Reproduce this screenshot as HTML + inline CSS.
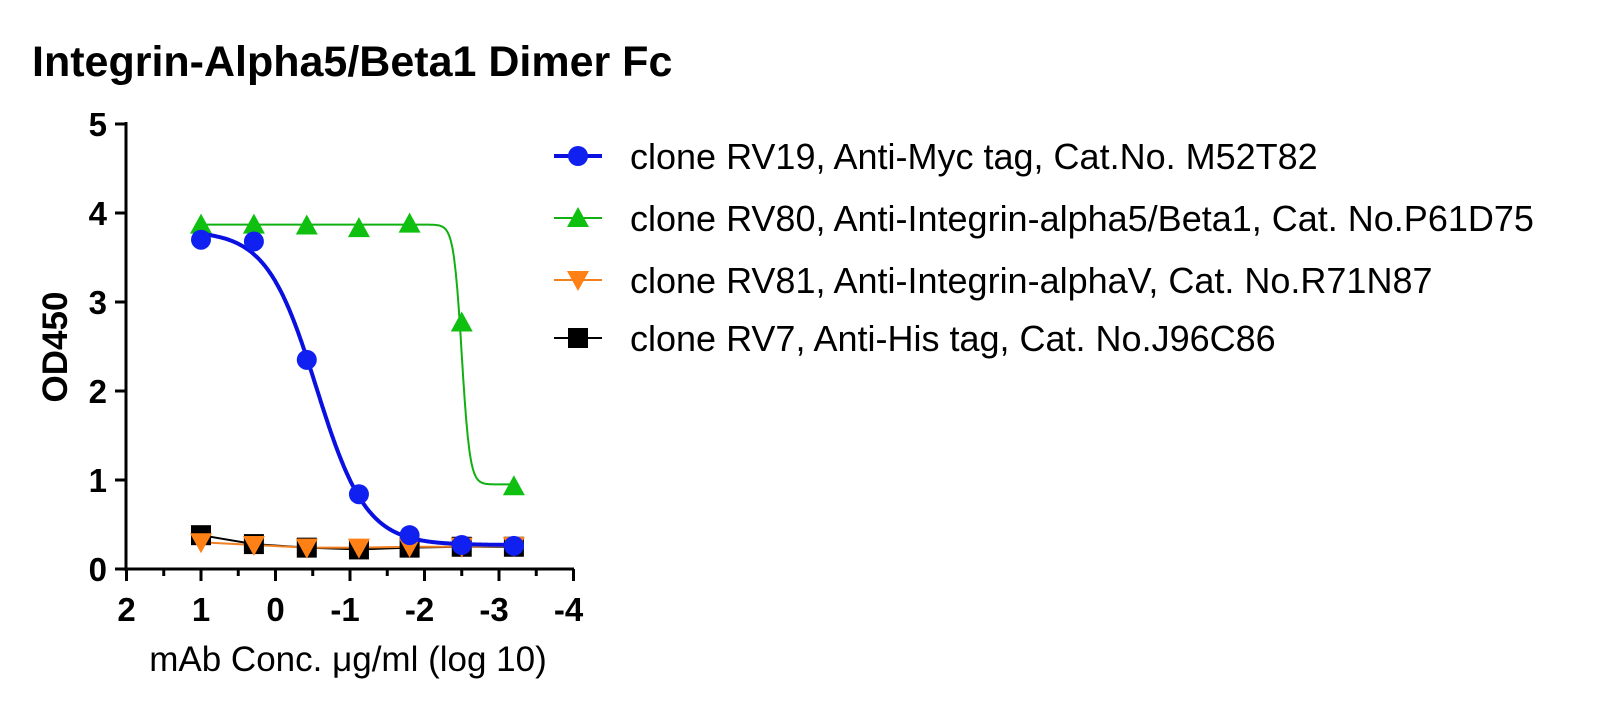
<!DOCTYPE html>
<html><head><meta charset="utf-8"><style>
html,body{margin:0;padding:0;background:#fff;}
svg{display:block;font-family:"Liberation Sans",Arial,sans-serif;}
</style></head><body>
<svg id="s" width="1600" height="726" viewBox="0 0 1600 726">
<text x="32" y="76" font-size="43" font-weight="bold">Integrin-Alpha5/Beta1 Dimer Fc</text>
<g stroke="#000" stroke-width="3" fill="none">
<line x1="126" y1="122" x2="126" y2="571"/>
<line x1="124" y1="569" x2="574" y2="569"/>
</g>
<g id="ticks" stroke="#000" stroke-width="3"></g>
<g id="tl" font-size="33" font-weight="bold"></g>
<text transform="translate(67,347) rotate(-90)" font-size="35" font-weight="bold" text-anchor="middle">OD450</text>
<text x="348" y="671" font-size="35" text-anchor="middle">mAb Conc. μg/ml (log 10)</text>
<g id="plot"></g>
<g id="leg" font-size="36"></g>
</svg>
<script>
const NS="http://www.w3.org/2000/svg";
function el(p,t,a,txt){const e=document.createElementNS(NS,t);for(const k in a)e.setAttribute(k,a[k]);if(txt!=null)e.textContent=txt;p.appendChild(e);return e;}
const X=v=>201+(1-v)*74.5, Y=v=>569-v*89;
const tk=document.getElementById('ticks'),tl=document.getElementById('tl');
for(let i=0;i<=5;i++){el(tk,'line',{x1:115,y1:Y(i),x2:126,y2:Y(i)});el(tl,'text',{x:107,y:Y(i)+12,'text-anchor':'end'},i);}
for(let v=2;v>=-4;v--){el(tk,'line',{x1:X(v),y1:569,x2:X(v),y2:581});el(tl,'text',{x:X(v)-(v<0?5:0),y:621,'text-anchor':'middle'},v<0?'-'+(-v):v);}
for(let v=1.5;v>=-3.5;v--){el(tk,'line',{x1:X(v),y1:569,x2:X(v),y2:576});}
const xs=[1,0.29,-0.42,-1.12,-1.8,-2.5,-3.2];
const P=document.getElementById('plot');
function curve(b,t,c,h){let d='';for(let x=1;x>=-3.2;x-=0.01){const y=b+(t-b)/(1+Math.pow(10,h*(c-x)));d+=(d?'L':'M')+X(x).toFixed(1)+','+Y(y).toFixed(1);}return d;}
function mark(g,type,x,y,col){
 if(type=='c')el(g,'circle',{cx:x,cy:y,r:10,fill:col});
 else if(type=='t')el(g,'polygon',{points:`${x},${y-11} ${x-11},${y+9} ${x+11},${y+9}`,fill:col});
 else if(type=='v')el(g,'polygon',{points:`${x},${y+11} ${x-11},${y-9} ${x+11},${y-9}`,fill:col});
 else el(g,'rect',{x:x-10,y:y-10,width:20,height:20,fill:col});
}
const black=[0.38,0.28,0.24,0.22,0.24,0.25,0.25], orange=[0.3,0.27,0.24,0.24,0.25,0.25,0.26];
el(P,'polyline',{points:xs.map((x,i)=>X(x)+','+Y(black[i])).join(' '),stroke:'#000','stroke-width':2,fill:'none'});
el(P,'polyline',{points:xs.map((x,i)=>X(x)+','+Y(orange[i])).join(' '),stroke:'#f08020','stroke-width':2,fill:'none'});
black.forEach((v,i)=>mark(P,'s',X(xs[i]),Y(v),'#000'));
orange.forEach((v,i)=>mark(P,'v',X(xs[i]),Y(v),'#ff8015'));
el(P,'path',{d:curve(0.95,3.87,-2.5,8),stroke:'#10b010','stroke-width':2,fill:'none'});
[3.87,3.87,3.86,3.83,3.88,2.77,0.93].forEach((v,i)=>mark(P,'t',X(xs[i]),Y(v),'#10c010'));
el(P,'path',{d:curve(0.27,3.8,-0.55,1.3),stroke:'#0a10e0','stroke-width':4,fill:'none'});
[3.7,3.68,2.35,0.84,0.38,0.27,0.26].forEach((v,i)=>mark(P,'c',X(xs[i]),Y(v),'#1020f0'));
const L=document.getElementById('leg');
const items=[['c','#1020f0','#0a10e0',4,'clone RV19, Anti-Myc tag, Cat.No. M52T82',156],
['t','#10c010','#10b010',2,'clone RV80, Anti-Integrin-alpha5/Beta1, Cat. No.P61D75',218],
['v','#ff8015','#f08020',2,'clone RV81, Anti-Integrin-alphaV, Cat. No.R71N87',280],
['s','#000','#000',2,'clone RV7, Anti-His tag, Cat. No.J96C86',338]];
items.forEach(([t,c,lc,w,txt,y])=>{el(L,'line',{x1:554,y1:y,x2:602,y2:y,stroke:lc,'stroke-width':w});mark(L,t,578,y,c);el(L,'text',{x:630,y:y+13},txt);});
</script>
</body></html>
